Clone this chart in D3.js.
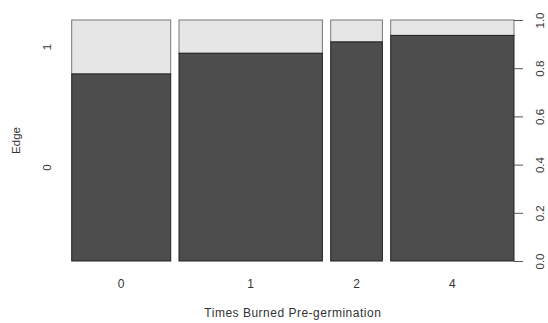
<html>
<script src="https://d3js.org/d3.v7.min.js"></script>
<style>
body {margin:0; background:#fff;}
text {font-family: "Liberation Sans", Arial, sans-serif; fill:#333;}
</style>
<body>
<svg width=548 height=323></svg>
<script>
// categories on the x axis and their relative sizes (bar widths)
var burned = ["0", "1", "2", "4"];
var groupShare = [99, 143.4, 51.7, 123.3];
// proportion of Edge = 0 within each group
var edgeZero = [0.776, 0.862, 0.909, 0.936];
var edgeLevels = ["0", "1"];
var rightTicks = [0, 0.2, 0.4, 0.6, 0.8, 1.0];

var plotLeft = 71.7, plotRight = 514, plotTop = 20, plotBottom = 261;
var gap = 8.3;
var svg = d3.select("svg");

var total = d3.sum(groupShare);
var xs = d3.scaleLinear().domain([0, total]).range([0, (plotRight - plotLeft) - gap * (burned.length - 1)]);
var ys = d3.scaleLinear().domain([0, 1]).range([plotBottom, plotTop]);

var cum = 0;
var bars = burned.map(function(b, i) {
  var x0 = plotLeft + xs(cum) + gap * i;
  cum += groupShare[i];
  var x1 = plotLeft + xs(cum) + gap * i;
  return {label: b, x0: x0, x1: x1, p: edgeZero[i]};
});

var g = svg.append("g");
// light part (Edge = 1)
g.selectAll("rect.top").data(bars).enter().append("rect")
  .attr("x", function(d){return d.x0;})
  .attr("y", ys(1))
  .attr("width", function(d){return d.x1 - d.x0;})
  .attr("height", function(d){return ys(d.p) - ys(1);})
  .style("fill", "#e6e6e6").style("stroke", "#777").style("stroke-width", 1);
// dark part (Edge = 0)
g.selectAll("rect.bot").data(bars).enter().append("rect")
  .attr("x", function(d){return d.x0;})
  .attr("y", function(d){return ys(d.p);})
  .attr("width", function(d){return d.x1 - d.x0;})
  .attr("height", function(d){return ys(0) - ys(d.p);})
  .style("fill", "#4d4d4d").style("stroke", "#222").style("stroke-width", 1);

// x labels
g.selectAll("text.xl").data(bars).enter().append("text")
  .attr("x", function(d){return (d.x0 + d.x1) / 2;})
  .attr("y", 288)
  .style("text-anchor", "middle").style("font-size", "12px")
  .text(function(d){return d.label;});

// left labels at the middle of first bar's segments
var p0 = edgeZero[0];
var leftPos = [ys(p0 / 2), ys((1 + p0) / 2)];
edgeLevels.forEach(function(l, i) {
  svg.append("text")
    .attr("transform", "translate(51," + leftPos[i] + ") rotate(-90)")
    .style("text-anchor", "middle").style("font-size", "11.5px")
    .text(l);
});

// right axis
var ax = svg.append("g").attr("transform", "translate(" + plotRight + ",0)")
  .call(d3.axisRight(ys).tickValues(rightTicks).tickFormat(d3.format(".1f")).tickSize(9).tickPadding(0));
ax.select(".domain").remove();
ax.selectAll(".tick line").attr("stroke", "#555");
ax.selectAll(".tick text")
  .attr("x", 0).attr("dy", 0)
  .attr("transform", "translate(30,0) rotate(-90)")
  .style("text-anchor", "middle").style("font-size", "11.5px").style("font-family", "Liberation Sans, Arial, sans-serif")
  .attr("fill", "#333");

// axis titles
svg.append("text")
  .attr("x", (plotLeft + plotRight) / 2).attr("y", 317)
  .style("text-anchor", "middle").style("font-size", "12px").style("letter-spacing", "0.5px")
  .text("Times Burned Pre-germination");
svg.append("text")
  .attr("transform", "translate(20," + ((plotTop + plotBottom) / 2) + ") rotate(-90)")
  .style("text-anchor", "middle").style("font-size", "11.5px")
  .text("Edge");
</script>
</body>
</html>
